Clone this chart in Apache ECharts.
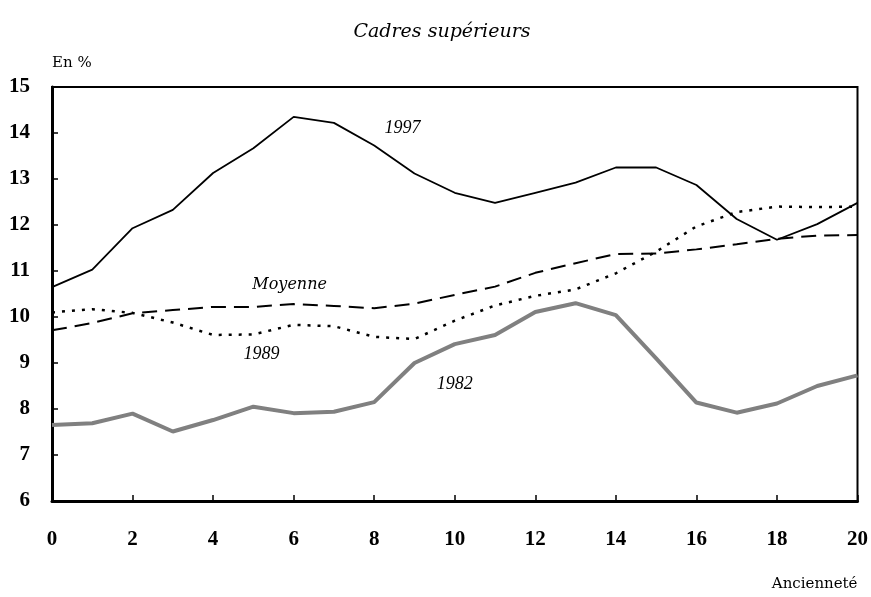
<!DOCTYPE html>
<html>
<head>
<meta charset="utf-8">
<script src="https://cdn.jsdelivr.net/npm/echarts@6/dist/echarts.min.js"></script>
<style>
  html, body { margin: 0; padding: 0; background: #fff; }
  #chart { width: 871px; height: 597px; }
</style>
</head>
<body>
<div id="chart"></div>
<script>
const anciennete = [0, 1, 2, 3, 4, 5, 6, 7, 8, 9, 10, 11, 12, 13, 14, 15, 16, 17, 18, 19, 20]
const serie1997 = [10.65, 11.03, 11.93, 12.33, 13.13, 13.67, 14.35, 14.22, 13.73, 13.12, 12.70, 12.48, 12.70, 12.92, 13.25, 13.25, 12.87, 12.13, 11.68, 12.02, 12.48]
const serieMoyenne = [9.71, 9.87, 10.08, 10.15, 10.22, 10.22, 10.28, 10.24, 10.19, 10.29, 10.48, 10.66, 10.96, 11.17, 11.37, 11.38, 11.47, 11.58, 11.70, 11.77, 11.78]
const serie1989 = [10.10, 10.17, 10.09, 9.88, 9.61, 9.62, 9.83, 9.80, 9.57, 9.52, 9.92, 10.25, 10.46, 10.60, 10.95, 11.42, 11.97, 12.28, 12.40, 12.39, 12.40]
const serie1982 = [7.65, 7.69, 7.90, 7.51, 7.76, 8.05, 7.91, 7.94, 8.15, 9.00, 9.41, 9.61, 10.11, 10.30, 10.04, 9.10, 8.14, 7.92, 8.12, 8.50, 8.73]

// position des étiquettes de courbes (en coordonnées des données)
const etiquettes = [
  { text: '1997', x: 8.7, y: 14.1 },
  { text: 'Moyenne', x: 5.9, y: 10.7 },
  { text: '1989', x: 5.2, y: 9.2 },
  { text: '1982', x: 10.0, y: 8.54 }
]

const pairs = (vals) => anciennete.map((a, i) => [a, vals[i]])
const serif = '"Liberation Serif", serif'
const wide = '"DejaVu Serif", serif'

const chart = echarts.init(document.getElementById('chart'))
chart.setOption({
  animation: false,
  backgroundColor: '#fff',
  title: {
    text: 'Cadres supérieurs',
    left: 437,
    textAlign: 'center',
    top: 18,
    textStyle: { fontFamily: wide, fontStyle: 'italic', fontWeight: 'normal', fontSize: 19, color: '#000' }
  },
  grid: {
    left: 52, right: 13, top: 87, bottom: 96,
    show: true, borderColor: '#000', borderWidth: 2, backgroundColor: 'transparent'
  },
  xAxis: {
    type: 'value',
    min: 0, max: 20, interval: 2,
    name: 'Ancienneté',
    nameLocation: 'end',
    nameGap: 0,
    nameTextStyle: { fontFamily: wide, fontSize: 15, color: '#000', align: 'right', verticalAlign: 'top', padding: [76, 0, 0, 0] },
    axisLine: { lineStyle: { color: '#000', width: 3 } },
    axisTick: { inside: true, length: 6, lineStyle: { color: '#000', width: 1.5 } },
    axisLabel: { margin: 28, fontFamily: serif, fontWeight: 'bold', fontSize: 21, color: '#000' },
    splitLine: { show: false }
  },
  yAxis: {
    type: 'value',
    min: 6, max: 15, interval: 1,
    name: 'En %',
    nameLocation: 'end',
    nameGap: 16,
    nameTextStyle: { fontFamily: wide, fontSize: 15, color: '#000', align: 'left' },
    axisLine: { show: true, lineStyle: { color: '#000', width: 3 } },
    axisTick: { show: true, inside: true, length: 6, lineStyle: { color: '#000', width: 1.5 } },
    axisLabel: { margin: 22, fontFamily: serif, fontWeight: 'bold', fontSize: 21, color: '#000' },
    splitLine: { show: false }
  },
  series: [
    {
      name: '1982', type: 'line', data: pairs(serie1982), symbol: 'none',
      lineStyle: { color: '#808080', width: 4 }
    },
    {
      name: '1989', type: 'line', data: pairs(serie1989), symbol: 'none',
      lineStyle: { color: '#000', width: 2.5, type: [3, 7] }
    },
    {
      name: 'Moyenne', type: 'line', data: pairs(serieMoyenne), symbol: 'none',
      lineStyle: { color: '#000', width: 2, type: [15, 8] }
    },
    {
      name: '1997', type: 'line', data: pairs(serie1997), symbol: 'none',
      lineStyle: { color: '#000', width: 1.8 }
    }
  ]
})

chart.setOption({
  graphic: etiquettes.map((e) => {
    const p = chart.convertToPixel({ gridIndex: 0 }, [e.x, e.y])
    const f = e.text === 'Moyenne' ? 'italic 16px ' + wide : 'italic 18px ' + serif
    return {
      type: 'text', x: p[0], y: p[1],
      style: {
        text: e.text, fill: '#000', font: f,
        textAlign: 'center', textVerticalAlign: 'middle'
      }
    }
  })
})
</script>
</body>
</html>
